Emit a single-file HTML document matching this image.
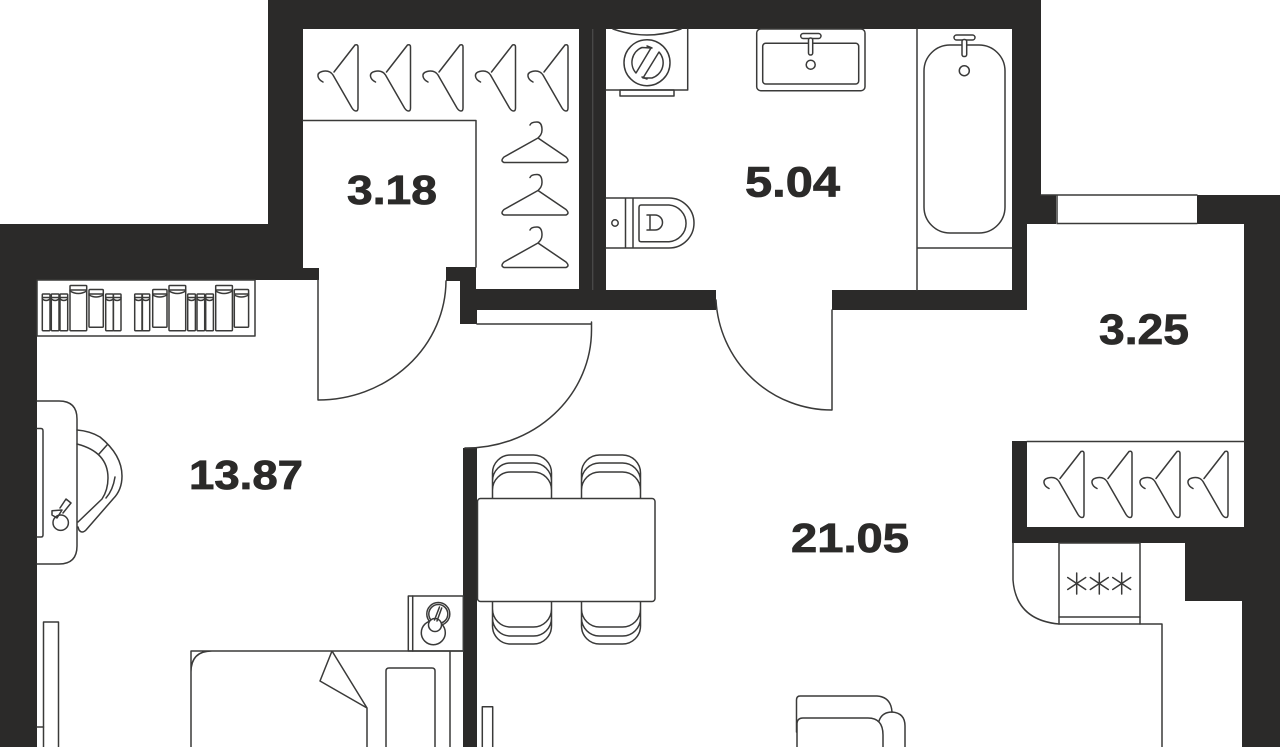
<!DOCTYPE html>
<html><head><meta charset="utf-8"><title>Floor plan</title>
<style>html,body{margin:0;padding:0;background:#fff;width:1280px;height:747px;overflow:hidden}svg{display:block}
.l{fill:none;stroke:#3a3a39;stroke-width:1.5;stroke-linejoin:round;stroke-linecap:round}
.w{fill:#2b2a29}
text{font-family:"Liberation Sans",sans-serif;font-weight:700;fill:#2b2a29;stroke:#2b2a29;stroke-width:.8}
</style></head><body>
<svg width="1280" height="747" viewBox="0 0 1280 747" xmlns="http://www.w3.org/2000/svg">
<defs>
<g id="hv"><path d="M323 82C317 79 316 73 322 71.500C328 70 331 72 333 75L352 108Q354 111 356 111Q358 111 358 108V47Q358 44 355 45L334 72"/></g>
<g id="hh"><path d="M530 125C531 122 535 122 537 122C541 122 542 126 542 130C542 134 540 136 538 138L566 157Q570 161 566 162.500H504Q500 161 504 157L538 138"/></g>
<g id="bs"><rect x="0" y="294" width="7.700" height="36.700" rx=".8"/><path d="M0 297.500H7.700M0 299Q3.800 302 7.700 299"/></g>
<g id="bl"><rect x="0" y="285.500" width="16.700" height="45.200" rx=".8"/><path d="M0 290H16.700M0 291Q8.300 296 16.700 291"/></g>
<g id="bm"><rect x="0" y="289.500" width="14.300" height="37.800" rx="1"/><path d="M0 294H14.300M0 295Q7 299 14.300 295"/></g>
<g id="ct"><path d="M492.500 498V490A18 18 0 0 1 510.500 472H533.500A18 18 0 0 1 551.500 490V498M492.500 490V481A18 18 0 0 1 510.500 463H533.500A18 18 0 0 1 551.500 481V490M492.500 481V473A18 18 0 0 1 510.500 455H533.500A18 18 0 0 1 551.500 473V481"/></g>
<g id="cb"><path d="M492.500 602V609A18 18 0 0 0 510.500 627H533.500A18 18 0 0 0 551.500 609V602M492.500 609V618A18 18 0 0 0 510.500 636H533.500A18 18 0 0 0 551.500 618V609M492.500 618V626A18 18 0 0 0 510.500 644H533.500A18 18 0 0 0 551.500 626V618"/></g>
<g id="as"><path d="M0 -10.500V10.500M-9 -6L9 6M-9 6L9 -6"/></g>
</defs>
<rect width="1280" height="747" fill="#fff"/>

<!-- walls -->
<path class="w" d="M0 224H268V0H1041V195H1056V224H1027V310H832V290H1012V29H606V290H716V310H477V324H460V281H446V267H476V289H579V29H303V268H319V280H37V747H0Z"/>
<rect class="w" x="463" y="448" width="14" height="299"/>
<path class="w" d="M1197 195H1280V747H1242V601H1185V543H1012V441H1027V527H1244V224H1197Z"/>
<path d="M592.700 29V290" stroke="#4a4a49" stroke-width="1.300" fill="none"/>

<g class="l">
<!-- window -->
<path d="M1041 195H1197M1057 223.500H1197M1057 195V223"/>
<!-- closet -->
<path d="M303 120.500H476V267"/>
<use href="#hv"/><use href="#hv" x="52.500"/><use href="#hv" x="105"/><use href="#hv" x="157.500"/><use href="#hv" x="210"/>
<use href="#hh"/><use href="#hh" y="52.500"/><use href="#hh" y="105"/>
<!-- bath -->
<path d="M613 29Q647 41 681 29"/>
<path d="M606 90H687.700V29"/>
<rect x="620" y="90" width="54" height="6"/>
<circle cx="647" cy="62.700" r="23"/>
<path d="M642 47.500A16 16 0 0 0 636 73L651 48ZM652 78A16 16 0 0 0 659 52L643 78Z"/>
<path d="M652 48L647 46M642 77L647 79"/>
<rect x="756.700" y="29" width="108.300" height="61.700" rx="4"/>
<rect x="762.700" y="43.300" width="96" height="40.700" rx="3"/>
<rect x="800.700" y="33.500" width="20.300" height="5" rx="2.500" fill="#fff"/>
<rect x="808.500" y="38" width="4.200" height="17" rx="2" fill="#fff"/>
<circle cx="810.700" cy="64.700" r="4.500"/>
<path d="M917 29V290M917 248H1012"/>
<rect x="924" y="45" width="81" height="188" rx="26"/>
<rect x="954" y="35" width="21" height="5" rx="2.500" fill="#fff"/>
<rect x="962" y="39.500" width="4.700" height="17" rx="2" fill="#fff"/>
<circle cx="964.300" cy="70.700" r="5"/>
<path d="M606 198H669A25 25 0 0 1 669 248H606M625.500 198V248M633 198V248"/>
<path d="M639 207.500Q639 205 641 205H669A18.400 18.400 0 0 1 669 241.700H641Q639 241.700 639 239.500Z"/>
<path d="M647 215H655A7.500 7.500 0 0 1 655 230H647M650 215V230"/>
<circle cx="615" cy="223" r="3.200"/>
<!-- balcony niche -->
<path d="M1027 441.500H1244"/>
<use href="#hv" x="726" y="406.500"/><use href="#hv" x="774" y="406.500"/><use href="#hv" x="822" y="406.500"/><use href="#hv" x="870" y="406.500"/>
<!-- kitchen -->
<path d="M1013 543V580Q1016 620 1059 624"/>
<rect x="1059" y="543" width="81" height="81"/>
<path d="M1059 617H1140M1140 624H1162V747"/>
<use href="#as" x="1076.700" y="583.500"/><use href="#as" x="1099.300" y="583.500"/><use href="#as" x="1121.700" y="583.500"/>
<!-- bookshelf -->
<rect x="37" y="280" width="218" height="56"/>
<use href="#bs" x="42.300"/><use href="#bs" x="51.300"/><use href="#bs" x="60"/><use href="#bl" x="70"/><use href="#bm" x="89"/><use href="#bs" x="105.700"/><use href="#bs" x="113.300"/>
<use href="#bs" x="134.700"/><use href="#bs" x="142"/><use href="#bm" x="152.700"/><use href="#bl" x="169"/><use href="#bs" x="187.700"/><use href="#bs" x="197"/><use href="#bs" x="205.700"/><use href="#bl" x="215.700"/><use href="#bm" x="234.300"/>
<!-- desk -->
<path d="M37 401H59Q77 401 77 419V546Q77 564 59 564H37"/>
<path d="M37 428.500H41Q43 428.500 43 431V535Q43 537 41 537H37"/>
<path d="M77 430Q90 431 100 437Q122 455 122 476Q122 490 113 499L86 530Q82 534 79 530L78 527"/>
<path d="M77 444Q108 452 108 478Q108 490 102 499L78 522M99 454L107 445M115 477Q113 490 106 498"/>
<circle cx="60.700" cy="522.700" r="7.700"/>
<path d="M52 510.700L62 510L57 518L52 515ZM60 508L66 499L71 503L63 513"/>
<!-- doors -->
<path d="M318 280V400A128 120 0 0 0 446 281"/>
<path d="M477 324H591.500M591.500 322V330A125 118 0 0 1 465 448"/>
<path d="M832 310V410A116 116 0 0 1 716 300"/>
<!-- bedroom -->
<rect x="43.500" y="622" width="15" height="130"/>
<path d="M37 727H43.500"/>
<path d="M191 747V651H463M191 672Q191 651 212 651M450 651V747M367 747V708L332 651L320 681L367 708"/>
<path d="M386 747V671Q386 668 389 668H432Q435 668 435 671V747"/>
<rect x="408.300" y="596" width="55" height="55"/>
<path d="M412.700 596V651"/>
<circle cx="438.300" cy="614" r="11.500"/><circle cx="438.300" cy="614" r="9.500"/>
<circle cx="433.300" cy="632.700" r="12"/>
<circle cx="435" cy="625" r="6.500" fill="#fff"/>
<path d="M441.700 608L437 621M439.500 607L434.500 620"/>
<rect x="482.300" y="706.700" width="10.400" height="50"/>
<!-- dining -->
<use href="#ct"/><use href="#ct" x="89"/><use href="#cb"/><use href="#cb" x="89"/>
<rect x="477.500" y="498.500" width="177.500" height="103" rx="3" fill="#fff"/>
<!-- sofa -->
<path d="M796.500 732V700Q796.500 696 800 696H877Q891 697 892 712"/>
<path d="M797 752V724Q797 718 803 718H868Q883 718 883 735V752"/>
<path d="M879 721Q882 712 892 712Q905 713 905 726V752"/>
</g>

<text x="347" y="204" font-size="41" textLength="90" lengthAdjust="spacingAndGlyphs">3.18</text>
<text x="745" y="196.500" font-size="43" textLength="95" lengthAdjust="spacingAndGlyphs">5.04</text>
<text x="1099" y="344" font-size="43" textLength="90" lengthAdjust="spacingAndGlyphs">3.25</text>
<text x="189" y="489" font-size="41" textLength="114" lengthAdjust="spacingAndGlyphs">13.87</text>
<text x="791" y="552" font-size="41" textLength="118" lengthAdjust="spacingAndGlyphs">21.05</text>
</svg>
</body></html>
